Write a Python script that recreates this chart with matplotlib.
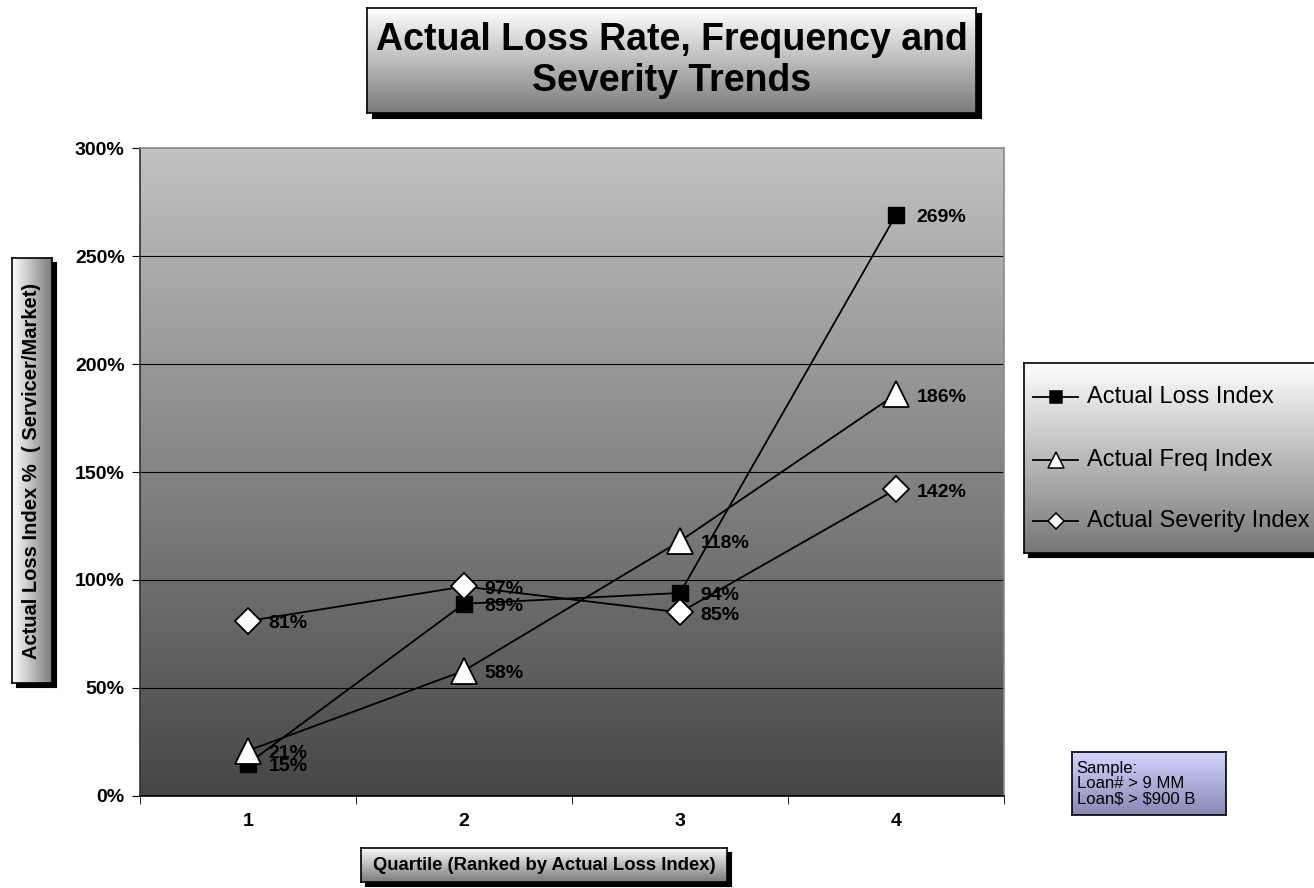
import numpy as np
import matplotlib
matplotlib.use("Agg")
import matplotlib.pyplot as plt
from matplotlib.colors import LinearSegmentedColormap
import matplotlib.ticker as ticker

plt.rcParams['font.family'] = ['Liberation Sans', 'DejaVu Sans']

quartiles = [1, 2, 3, 4]
loss_index = [15, 89, 94, 269]
freq_index = [21, 58, 118, 186]
sev_index = [81, 97, 85, 142]
series_names = ['Actual Loss Index', 'Actual Freq Index', 'Actual Severity Index']
sample_text = 'Sample:\nLoan# > 9 MM\nLoan\\$ > \\$900 B'

W, H = 1314, 888
fig = plt.figure(figsize=[W / 100, H / 100], dpi=100)


def px(x0, y0, x1, y1):
    # pixel box -> figure fraction rect
    return [x0 / W, 1 - y1 / H, (x1 - x0) / W, (y1 - y0) / H]


def grad_box(x0, y0, x1, y1, top, bottom, shadow=5, z=1, horiz=False):
    if shadow:
        sh = fig.add_axes(px(x0 + shadow, y0 + shadow, x1 + shadow, y1 + shadow), zorder=z)
        sh.set_facecolor('black')
        sh.set_xticks([])
        sh.set_yticks([])
    a = fig.add_axes(px(x0, y0, x1, y1), zorder=z + 0.1)
    cmap = LinearSegmentedColormap.from_list('g', [top, bottom])
    g = np.linspace(0, 1, 256)
    g = g.reshape(1, -1) if horiz else g.reshape(-1, 1)
    a.imshow(g, aspect='auto', cmap=cmap, extent=[0, 1, 0, 1], origin='upper')
    a.set_xlim(0, 1)
    a.set_ylim(0, 1)
    a.set_xticks([])
    a.set_yticks([])
    for s in a.spines.values():
        s.set_linewidth(1.2)
    return a


# main plot
ax = fig.add_axes(px(140, 148, 1004, 796), zorder=2)
bg = LinearSegmentedColormap.from_list('bg', ['#c2c2c2', '#464646'])
ax.imshow(np.linspace(0, 1, 256).reshape(-1, 1), aspect='auto', cmap=bg,
          extent=[0.5, 4.5, 0, 300], origin='upper', zorder=0)
ax.set_xlim(0.5, 4.5)
ax.set_ylim(0, 300)
for y in [50, 100, 150, 200, 250]:
    ax.axhline(y, color='black', lw=0.8, zorder=1)
for s in ax.spines.values():
    s.set_color('#8a8a8a')
    s.set_linewidth(1.2)
ax.spines['left'].set_color('#333333')
ax.spines['bottom'].set_color('black')

ax.yaxis.set_major_locator(ticker.MultipleLocator(50))
ax.yaxis.set_major_formatter(ticker.FuncFormatter(lambda v, p: '%d%%' % v))
ax.set_xticks(quartiles)
ax.set_xticklabels([str(q) for q in quartiles])
ax.xaxis.set_minor_locator(ticker.FixedLocator([0.5, 1.5, 2.5, 3.5, 4.5]))
ax.tick_params(axis='x', which='major', length=0, pad=12, labelsize=14)
ax.tick_params(axis='x', which='minor', length=6, direction='out')
ax.tick_params(axis='y', length=6, direction='out', labelsize=14, pad=5)
for lab in ax.get_xticklabels() + ax.get_yticklabels():
    lab.set_fontweight('bold')

l1, = ax.plot(quartiles, loss_index, color='black', lw=1.3, marker='s', ms=11,
              mfc='black', mec='black', zorder=3)
l2, = ax.plot(quartiles, freq_index, color='black', lw=1.3, marker='^', ms=19,
              mfc='white', mec='black', mew=1.3, zorder=4)
l3, = ax.plot(quartiles, sev_index, color='black', lw=1.3, marker='D', ms=13,
              mfc='white', mec='black', mew=1.3, zorder=5)

for series in [loss_index, freq_index, sev_index]:
    for q, v in zip(quartiles, series):
        ax.annotate('%d%%' % v, (q, v), xytext=(15, -2), textcoords='offset points',
                    ha='left', va='center', fontsize=14, fontweight='bold', zorder=6)

# title box
tb = grad_box(367, 8, 976, 113, '#ffffff', '#7a7a7a', shadow=5)
tb.text(0.5, 0.5, 'Actual Loss Rate, Frequency and\nSeverity Trends', ha='center',
        va='center', fontsize=27, fontweight='bold', linespacing=1.2)

# legend box
lb = grad_box(1024, 363, 1320, 553, '#ffffff', '#767676', shadow=4)
rows = [397, 460, 521]
for yp, h, name in zip(rows, [l1, l2, l3], series_names):
    yy = (553 - yp) / (553 - 363)
    x0, x1, xm = (1033 - 1024) / 296, (1078 - 1024) / 296, (1056 - 1024) / 296
    lb.plot([x0, x1], [yy, yy], color='black', lw=1.3)
    ms = {'s': 9, '^': 12, 'D': 8}[h.get_marker()]
    lb.plot([xm], [yy], marker=h.get_marker(), ms=ms, mfc=h.get_mfc(),
            mec='black', mew=1.1, color='black')
    lb.text((1087 - 1024) / 296, yy, name, ha='left', va='center', fontsize=17)

# sample box
sb = grad_box(1072, 752, 1226, 815, '#d4d4ff', '#8888b4', shadow=0)
sb.text(0.03, 0.5, sample_text, ha='left', va='center', fontsize=12, linespacing=1.0)

# axis label boxes
xb = grad_box(361, 848, 727, 882, '#ffffff', '#7a7a7a', shadow=4)
xb.text(0.5, 0.5, 'Quartile (Ranked by Actual Loss Index)', ha='center', va='center',
        fontsize=13.3, fontweight='bold')

yb = grad_box(12, 258, 52, 683, '#ffffff', '#7a7a7a', shadow=4, horiz=True)
yb.text(0.5, 0.5, 'Actual Loss Index %  ( Servicer/Market)', rotation=90, ha='center',
        va='center', fontsize=14.5, fontweight='bold')

fig.savefig('out.png', dpi=100)
